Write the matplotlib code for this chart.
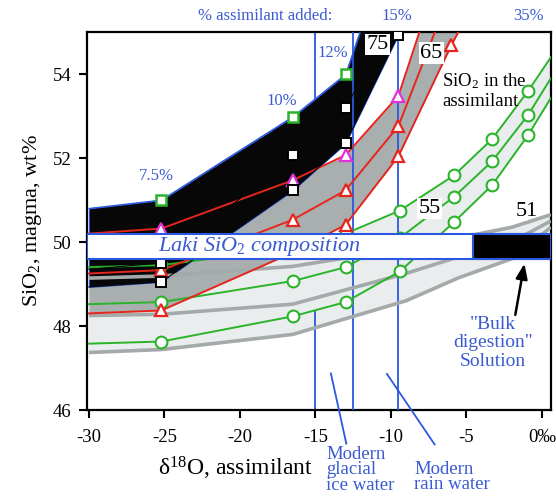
import matplotlib
matplotlib.use("Agg")
import matplotlib.pyplot as plt
from matplotlib.patches import Rectangle

plt.rcParams['font.family'] = ['Liberation Serif', 'DejaVu Serif']
plt.rcParams['mathtext.fontset'] = 'custom'
plt.rcParams['mathtext.rm'] = 'Liberation Serif'
plt.rcParams['mathtext.it'] = 'Liberation Serif:italic'

# 75 wt% SiO2 assimilant (black band, squares)
x75 = [-30, -25.2, -16.5, -13.0, -9.5]
up75 = [50.8, 51.0, 52.98, 53.99, 57.7]
mid75 = [49.35, 49.5, 52.07, 53.19, 55.5]
low75 = [48.93, 49.05, 51.23, 52.35, 54.94]

# 65 wt% SiO2 assimilant (grey band, triangles)
x65 = [-30, -25.2, -16.5, -13.0, -9.5, -6.0, -3.3]
up65 = [50.2, 50.32, 51.47, 52.07, 53.48, 57.3, 60.0]
mid65 = [49.25, 49.33, 50.53, 51.23, 52.76, 56.0, 59.0]
low65 = [48.3, 48.37, 49.75, 50.41, 52.04, 54.68, 56.5]

# 55 wt% SiO2 assimilant (light band, circles)
x55 = [-30, -25.2, -16.5, -13.0, -9.4, -5.8, -3.3, -0.9, 0.6]
up55 = [49.4, 49.45, 49.85, 50.2, 50.75, 51.59, 52.45, 53.6, 54.4]
mid55 = [48.52, 48.57, 49.07, 49.4, 50.1, 51.08, 51.92, 53.03, 53.9]
low55 = [47.58, 47.63, 48.23, 48.57, 49.3, 50.48, 51.35, 52.55, 53.43]

# 51 wt% SiO2 assimilant (grey lines)
x51 = [-30, -25.2, -16.5, -9.0, -5.5, -2.0, 0.6]
up51 = [49.14, 49.19, 49.42, 49.85, 50.1, 50.35, 50.65]
mid51 = [48.25, 48.28, 48.52, 49.25, 49.65, 50.0, 50.5]
low51 = [47.37, 47.44, 47.8, 48.6, 49.15, 49.6, 50.35]

# water d18O lines and Laki composition
water_x = [-15.0, -12.5, -9.5]
laki_range = [49.6, 50.2]
bulk_start = -4.55

xticks = [-30, -25, -20, -15, -10, -5, 0]
xticklabels = ['-30', '-25', '-20', '-15', '-10', '-5', '0\u2030']
yticks = [46, 48, 50, 52, 54]

BLUE_TXT = '#3a5ad2'
BLUE = '#2a58e0'
RED = '#e6261e'
MAG = '#e032dc'
GREEN = '#2ab42a'
GRAY_BAND = '#a9aeae'
LIGHT = '#e9eded'
GRAY51 = '#a4a9a9'

fig = plt.figure(figsize=(5.56, 4.98), dpi=100)
ax = fig.add_axes([0.1558, 0.1767, 0.835, 0.759])
ax.set_xlim(-30.15, 0.6)
ax.set_ylim(46, 55)

# bands
ax.fill_between(x51, low51, up51, color=LIGHT, lw=0, zorder=1)
ax.fill_between(x55, low55, up55, color=LIGHT, lw=0, zorder=2)
ax.fill_between(x65, low65, up65, color=GRAY_BAND, lw=0, zorder=2.2)
ax.fill_between(x75, low75, up75, facecolor='#070707', edgecolor=BLUE, lw=0.8, zorder=2.4)

# water lines
ax.axvline(water_x[0], color=BLUE, lw=1.3, zorder=1.5)
for wx in water_x[1:]:
    ax.axvline(wx, color=BLUE, lw=1.3, zorder=2.6)

# 51 lines
for yy in (up51, mid51, low51):
    ax.plot(x51, yy, color=GRAY51, lw=2.6, solid_capstyle='butt', zorder=3)

# 55 lines
for yy in (up55, mid55, low55):
    ax.plot(x55, yy, color=GREEN, lw=1.4, marker='o', ms=8.5, mfc='white',
            mec=GREEN, mew=1.5, markevery=slice(1, 8), zorder=3.2)

# 65 lines
ax.plot(x65, up65, color=RED, lw=1.4, zorder=3.4)
ax.plot(x65, up65, ls='none', marker='^', ms=9, mfc='white', mec=MAG, mew=1.6,
        markevery=slice(1, 6), zorder=3.5)
for yy in (mid65, low65):
    ax.plot(x65, yy, color=RED, lw=1.4, marker='^', ms=9, mfc='white',
            mec=RED, mew=1.6, markevery=slice(1, 6), zorder=3.4)

# 75 markers
ax.plot(x75, up75, color=BLUE, lw=0.8, marker='s', ms=7.5, mfc='white',
        mec=GREEN, mew=1.8, markevery=slice(1, 5), zorder=3.6)
for yy in (mid75, low75):
    ax.plot(x75, yy, color='#070707', lw=0.8, marker='s', ms=7.5, mfc='white',
            mec='black', mew=1.4, markevery=slice(1, 5), zorder=3.6)

# Laki composition box
ax.add_patch(Rectangle((-30.15, laki_range[0]), 30.75, laki_range[1] - laki_range[0],
                       facecolor='white', edgecolor=BLUE, lw=1.5, zorder=5))
ax.add_patch(Rectangle((bulk_start, laki_range[0]), 0.6 - bulk_start,
                       laki_range[1] - laki_range[0],
                       facecolor='black', edgecolor=BLUE, lw=1.5, zorder=5.1))
ax.text(-18.7, 49.9, 'Laki SiO$_2$ composition', color=BLUE_TXT, fontsize=16,
        style='italic', ha='center', va='center', zorder=6)

# SiO2 labels
box = dict(facecolor='white', edgecolor='none', pad=1.0)
ax.text(-10.86, 54.7, '75', fontsize=16, ha='center', va='center', bbox=box, zorder=6)
ax.text(-7.3, 54.5, '65', fontsize=16, ha='center', va='center', bbox=box, zorder=6)
ax.text(-7.42, 50.8, '55', fontsize=16, ha='center', va='center', bbox=box, zorder=6)
ax.text(-0.99, 50.72, '51', fontsize=16, ha='center', va='center', zorder=6)
ax.text(-6.62, 53.6, 'SiO$_2$ in the\nassimilant', fontsize=13.5, ha='left',
        va='center', linespacing=1.15, zorder=6)

# percent labels
ax.text(-13.84, 54.51, '12%', color=BLUE_TXT, fontsize=12, ha='center', va='center', zorder=6)
ax.text(-17.22, 53.36, '10%', color=BLUE_TXT, fontsize=12, ha='center', va='center', zorder=6)
ax.text(-25.5, 51.56, '7.5%', color=BLUE_TXT, fontsize=12, ha='center', va='center', zorder=6)
fig.text(0.477, 0.968, '% assimilant added:', color=BLUE_TXT, fontsize=12, ha='center', va='center')
fig.text(0.714, 0.968, '15%', color=BLUE_TXT, fontsize=12, ha='center', va='center')
fig.text(0.950, 0.968, '35%', color=BLUE_TXT, fontsize=12, ha='center', va='center')

# bulk digestion
ax.text(-3.25, 47.6, '"Bulk\ndigestion"\nSolution', color=BLUE_TXT, fontsize=14,
        ha='center', va='center', linespacing=1.1, zorder=6)
ax.annotate('', xy=(-1.12, 49.55), xytext=(-1.79, 48.2),
            arrowprops=dict(arrowstyle='-|>,head_length=0.9,head_width=0.35',
                            color='black', lw=1.8), zorder=6)

# water labels and pointers
glacial_line = ([-13.97, -12.95], [46.87, 45.2])
rain_line = ([-10.26, -7.1], [46.86, 45.18])
ax.plot(*glacial_line, color=BLUE, lw=1.3, clip_on=False, zorder=6)
ax.plot(*rain_line, color=BLUE, lw=1.3, clip_on=False, zorder=6)
fig.text(326 / 556, 1 - 446 / 498, 'Modern\nglacial\nice water', color=BLUE_TXT,
         fontsize=13.5, ha='left', va='top', linespacing=0.88)
fig.text(414 / 556, 1 - 461 / 498, 'Modern\nrain water', color=BLUE_TXT,
         fontsize=13.5, ha='left', va='top', linespacing=0.88)

# axes styling
ax.set_xticks(xticks)
ax.set_xticklabels(xticklabels)
ax.set_yticks(yticks)
ax.tick_params(direction='out', length=6, width=1.5, labelsize=13.5, pad=5)
ax.tick_params(axis='x', pad=8)
for s in ax.spines.values():
    s.set_linewidth(1.6)
ax.set_xlabel('\u03b4$^{18}$O, assimilant', fontsize=17, labelpad=6, x=0.32)
ax.set_ylabel('SiO$_2$, magma, wt%', fontsize=16, labelpad=6)

fig.savefig('out.png', dpi=100)
